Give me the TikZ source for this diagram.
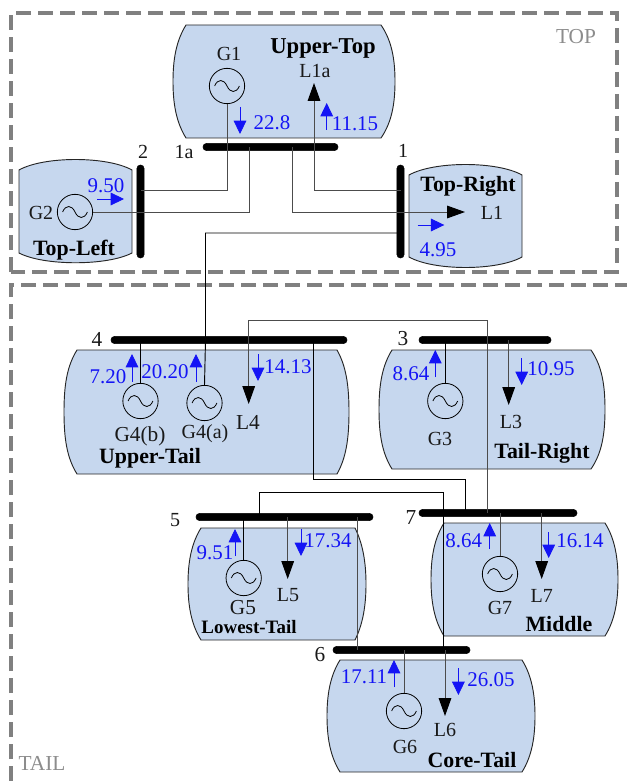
\documentclass[tikz,border=0pt]{standalone}
\usepackage{fontspec}
\setmainfont{Liberation Serif}
\usetikzlibrary{arrows.meta}
\definecolor{blobfill}{RGB}{198,215,238}
\definecolor{wire}{gray}{0.3}
\definecolor{flow}{RGB}{20,20,245}
\definecolor{framegray}{gray}{0.5}
\tikzset{
  x=0.75pt,y=-0.75pt,
  zoneframe/.style={draw=framegray,line width=2.6pt,dash pattern=on 11.5pt off 5pt},
  blob/.style={draw=black!85,fill=blobfill,line width=0.7pt},
  bus/.style={draw=black,fill=black,rounded corners=2.6pt,inner sep=0pt,minimum width=#1*0.75pt,minimum height=5.4pt},
  vbus/.style={draw=black,fill=black,rounded corners=2.6pt,inner sep=0pt,minimum height=#1*0.75pt,minimum width=5.4pt},
  gen/.style={draw=black,circle,inner sep=0pt,minimum size=26.5pt,line width=0.6pt},
  link/.style={draw=wire,line width=0.75pt},
  dark/.style={draw=black,line width=0.7pt},
  load/.style={draw=wire,line width=0.75pt,-{Triangle[length=13.5pt,width=9.5pt,fill=black,color=black]}},
  pf/.style={draw=flow,line width=0.6pt,-{Triangle[length=10pt,width=9.5pt,fill=flow,color=flow]}},
  lab/.style={inner sep=0pt,font=\fontsize{15pt}{16pt}\selectfont,text=black!90},
  bign/.style={inner sep=0pt,font=\fontsize{16pt}{17pt}\selectfont,text=black!90},
  val/.style={inner sep=0pt,font=\fontsize{15.7pt}{16pt}\selectfont,text=flow},
  area/.style={inner sep=0pt,font=\fontsize{16.4pt}{17pt}\selectfont\bfseries,text=black},
  zone/.style={inner sep=0pt,font=\fontsize{16pt}{17pt}\selectfont,text=black!45},
}
\newcommand{\barrel}[6]{% left right top bottom cornerleft cornerright
  \path[blob] (#5,#3) -- (#6,#3) .. controls (#2-3,#3+16) and (#2,#3+35) .. (#2,{(#3+#4)/2})
   .. controls (#2,#4-35) and (#2-3,#4-16) .. (#6,#4) -- (#5,#4)
   .. controls (#1+3,#4-16) and (#1,#4-35) .. (#1,{(#3+#4)/2})
   .. controls (#1,#3+35) and (#1+3,#3+16) .. (#5,#3) -- cycle;}
\newcommand{\drum}[6]{% left right top cornertop cornerbottom bottom
  \path[blob] (#1,#4) .. controls (#1+25,#3-3) and (#2-25,#3-3) .. (#2,#4) -- (#2,#5)
   .. controls (#2-25,#6+3) and (#1+25,#6+3) .. (#1,#5) -- cycle;}
\newcommand{\sine}[1]{%
  \draw[line width=0.6pt,black] ([shift={(-9.3pt,0pt)}]#1.center)
    .. controls ([shift={(-7pt,5.5pt)}]#1.center) and ([shift={(-2.5pt,5.5pt)}]#1.center) .. (#1.center)
    .. controls ([shift={(2.5pt,-5.5pt)}]#1.center) and ([shift={(7pt,-5.5pt)}]#1.center) .. ([shift={(9.3pt,0pt)}]#1.center);}
\begin{document}
\begin{tikzpicture}
\useasboundingbox (0,0) rectangle (627,781);
% zones
\draw[zoneframe] (11,272) -- (11,13) -- (617,13) -- (617,272) -- cycle;
\draw[zoneframe] (11,781) -- (11,285) -- (627,285);
% regions
\barrel{173}{395}{25}{138}{186}{381}
\drum{19}{132}{159}{170}{253}{263}
\drum{409}{522}{164}{175}{257}{268}
\barrel{64}{349}{350}{474}{77}{337}
\barrel{379}{605}{350}{469}{392}{591}
\barrel{188}{366}{528}{640}{201}{355}
\barrel{431}{618}{523}{636}{444}{605}
\barrel{327}{535}{660}{772}{340}{522}
% buses
\node[bus=135] (b1a) at (270.5,147) {};
\node[vbus=93] (b2) at (140.5,211.5) {};
\node[vbus=93] (b1) at (400.5,211.5) {};
\node[bus=236] (b4) at (229,340) {};
\node[bus=132] (b3) at (485,340) {};
\node[bus=177] (b5) at (284.5,517) {};
\node[bus=158] (b7) at (498,513) {};
\node[bus=137] (b6) at (401.5,650) {};
% generators
\node[gen] (g1) at (227,86) {}; \sine{g1}
\node[gen] (g2) at (75,212) {}; \sine{g2}
\node[gen] (g4b) at (140.5,401) {}; \sine{g4b}
\node[gen] (g4a) at (204.5,403) {}; \sine{g4a}
\node[gen] (g3) at (445.3,401) {}; \sine{g3}
\node[gen] (g5) at (243.7,578) {}; \sine{g5}
\node[gen] (g7) at (500,574) {}; \sine{g7}
\node[gen] (g6) at (404,711) {}; \sine{g6}
% load tips
\coordinate (t1a) at (314,83);
\coordinate (t1) at (465,212);
\coordinate (t4) at (248.7,404);
\coordinate (t3) at (508.7,405);
\coordinate (t5) at (287.7,579);
\coordinate (t7) at (541.7,579);
\coordinate (t6) at (445,716);
% connectors
\draw[link] (g1.south) -- (g1.south |- 0,190) -- (b2.center |- 0,190);
\draw[link] (249,147) -- (249,212) -- (g2.east);
\draw[load] (292,147) -- (292,212) -- (t1);
\draw[load] (b1.center |- 0,190) -- (t1a |- 0,190) -- (t1a);
\draw[dark] (b1.center |- 0,233) -- (205.5,233) -- (205.5,340) -- (g4a.north);
\draw[load] (487,513) -- (487,320) -- (t4 |- 0,320) -- (t4);
\draw[dark] (313.7,340) -- (313.7,479.3) -- (465.7,479.3) -- (465.7,513);
\draw[dark] (259.3,517) -- (259.3,492.7) -- (443.7,492.7) -- (443.7,650);
\draw[load] (t6 |- b6.center) -- (t6);
\draw[link] (357,517) -- (357,650);
\draw[dark] (g4b.north) -- (g4b.north |- b4.center);
\draw[dark] (g3.north) -- (g3.north |- b3.center);
\draw[load] (t3 |- b3.center) -- (t3);
\draw[dark] (g5.north) -- (g5.north |- b5.center);
\draw[load] (t5 |- b5.center) -- (t5);
\draw[link] (g7.north) -- (g7.north |- b7.center);
\draw[load] (t7 |- b7.center) -- (t7);
\draw[link] (g6.north) -- (g6.north |- b6.center);
% flow arrows
\coordinate (f1s) at (240,107); \coordinate (f1e) at (240,134); \draw[pf] (f1s) -- (f1e);
\coordinate (f2s) at (326.7,130); \coordinate (f2e) at (326.7,103); \draw[pf] (f2s) -- (f2e);
\coordinate (f3s) at (97,199); \coordinate (f3e) at (124,199); \draw[pf] (f3s) -- (f3e);
\coordinate (f4s) at (417.7,225); \coordinate (f4e) at (444.3,225); \draw[pf] (f4s) -- (f4e);
\coordinate (f5s) at (132,381.7); \coordinate (f5e) at (132,354); \draw[pf] (f5s) -- (f5e);
\coordinate (f6s) at (196,381.7); \coordinate (f6e) at (196,354); \draw[pf] (f6s) -- (f6e);
\coordinate (f7s) at (258,354); \coordinate (f7e) at (258,381); \draw[pf] (f7s) -- (f7e);
\coordinate (f8s) at (435.3,377); \coordinate (f8e) at (435.3,350); \draw[pf] (f8s) -- (f8e);
\coordinate (f9s) at (521.7,358); \coordinate (f9e) at (521.7,385); \draw[pf] (f9s) -- (f9e);
\coordinate (f10s) at (235,556); \coordinate (f10e) at (235,529); \draw[pf] (f10s) -- (f10e);
\coordinate (f11s) at (301,529); \coordinate (f11e) at (301,556); \draw[pf] (f11s) -- (f11e);
\coordinate (f12s) at (489.7,549); \coordinate (f12e) at (489.7,523); \draw[pf] (f12s) -- (f12e);
\coordinate (f13s) at (548.7,532); \coordinate (f13e) at (548.7,558); \draw[pf] (f13s) -- (f13e);
\coordinate (f14s) at (394,687); \coordinate (f14e) at (394,660); \draw[pf] (f14s) -- (f14e);
\coordinate (f15s) at (458.4,668); \coordinate (f15e) at (458.4,695); \draw[pf] (f15s) -- (f15e);
% labels
\node[lab] (lg1) at (229,54) {G1};
\node[area,font=\fontsize{17pt}{18pt}\selectfont\bfseries] (aut) at (323,48) {Upper-Top};
\node[lab] (ll1a) at (315,71) {L1a};
\node[val] (v1) at (272,123) {22.8};
\node[val] (v2) at (355,124) {11.15};
\node[lab] (n1a) at (184,152) {1a};
\node[lab] (n2) at (143,152) {2};
\node[lab] (n1) at (403,151) {1};
\node[area] (atr) at (468,186) {Top-Right};
\node[lab] (ll1) at (492,213) {L1};
\node[val] (v3) at (438,250) {4.95};
\node[area] (atl) at (74,250) {Top-Left};
\node[lab] (lg2) at (41,213) {G2};
\node[val] (v4) at (106,186) {9.50};
\node[zone] (ztop) at (576,37) {TOP};
\node[bign] (n4) at (97,339) {4};
\node[val] (v5) at (108,377) {7.20};
\node[val] (v6) at (165,372) {20.20};
\node[val] (v7) at (288,367) {14.13};
\node[bign] (lg4b) at (140,436) {G4(b)};
\node[lab] (lg4a) at (205,434) {G4(a)};
\node[bign] (ll4) at (248,422) {L4};
\node[area] (aupt) at (150,458) {Upper-Tail};
\node[bign] (n3) at (403,339) {3};
\node[val] (v8) at (411,374) {8.64};
\node[val] (v9) at (551,369) {10.95};
\node[lab] (ll3) at (511,422) {L3};
\node[lab] (lg3) at (440,439) {G3};
\node[area] (atrt) at (542,453) {Tail-Right};
\node[bign] (n7) at (411,518) {7};
\node[lab] (n5) at (175,520) {5};
\node[val] (v10) at (215,553) {9.51};
\node[val] (v11) at (328,541) {17.34};
\node[bign] (lg5) at (243,608) {G5};
\node[lab] (ll5) at (288,595) {L5};
\node[area,font=\fontsize{14.2pt}{15pt}\selectfont\bfseries] (alt) at (249,627) {Lowest-Tail};
\node[val] (v12) at (463.7,541) {8.64};
\node[val] (v13) at (580,541) {16.14};
\node[lab] (lg7) at (500,608) {G7};
\node[lab] (ll7) at (541.7,596) {L7};
\node[area] (amid) at (559,624) {Middle};
\node[bign] (n6) at (320,655) {6};
\node[val] (v14) at (364,677) {17.11};
\node[val] (v15) at (491,680) {26.05};
\node[lab] (lg6) at (405,747) {G6};
\node[lab] (ll6) at (445,730) {L6};
\node[area] (act) at (472,760) {Core-Tail};
\node[zone] (ztail) at (42,763) {TAIL};
\end{tikzpicture}
\end{document}
